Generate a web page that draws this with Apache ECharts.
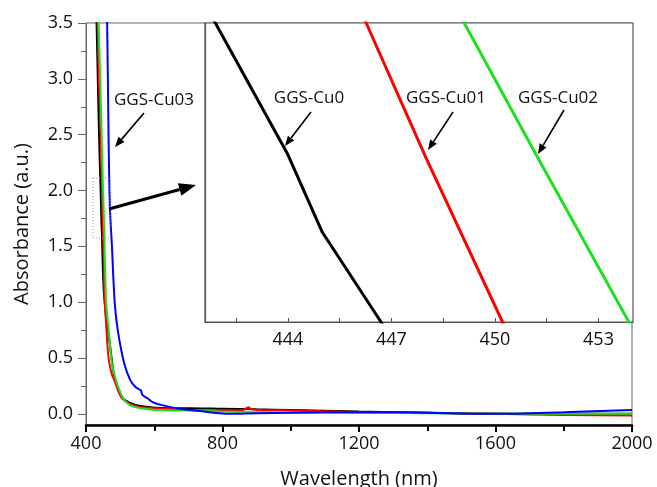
<!DOCTYPE html>
<html lang="en">
<head>
<meta charset="UTF-8">
<title>Absorbance</title>
<style>html,body{margin:0;background:#fff;}</style>
</head>
<body>
<div id="main" style="width: 657px;height:487px;"></div>
<script src="https://cdn.jsdelivr.net/npm/echarts/dist/echarts.min.js"></script>
<script>
// data (wavelength nm / absorbance a.u.)
var cu0Wl  = [425, 431, 436, 439, 441.9, 444, 445, 446.7, 448, 452, 458, 466, 475, 485, 505, 527, 560, 640, 700, 800, 900, 1000, 1200, 1400, 1600, 1800, 2000];
var cu0Abs = [4.2, 3.5, 2.8, 2.4, 2.1, 1.88, 1.75, 1.6, 1.45, 1.1, 0.9, 0.72, 0.5, 0.3, 0.15, 0.1, 0.07, 0.05, 0.05, 0.045, 0.04, 0.035, 0.02, 0.01, 0.0, 0.0, 0.0];

var cu01Wl  = [428, 434, 439, 444, 446.27, 448, 450.22, 452, 453, 455, 460, 466, 476, 483, 503, 527, 560, 640, 700, 800, 860, 870, 876, 882, 900, 1000, 1200, 1400, 1600, 1800, 2000];
var cu01Abs = [4.2, 3.5, 2.9, 2.42, 2.1, 1.875, 1.6, 1.42, 1.2, 1.0, 0.75, 0.5, 0.35, 0.3, 0.15, 0.09, 0.06, 0.045, 0.035, 0.03, 0.035, 0.05, 0.06, 0.045, 0.035, 0.03, 0.015, 0.01, 0.0, -0.01, -0.015];

var cu02Wl  = [432, 437, 442, 447, 449.11, 451.19, 453.88, 455, 457, 459, 468, 476, 488, 507, 527, 560, 640, 700, 800, 900, 1000, 1200, 1400, 1600, 1800, 2000];
var cu02Abs = [4.0, 3.5, 2.95, 2.38, 2.1, 1.88, 1.6, 1.42, 1.2, 1.0, 0.7, 0.45, 0.3, 0.15, 0.08, 0.05, 0.03, 0.03, 0.02, 0.015, 0.01, 0.01, 0.005, 0.0, 0.0, 0.0];

var cu03Wl  = [455, 462, 466, 470, 476, 484, 493, 512, 530, 545, 555, 561, 565, 580, 595, 620, 673, 720, 820, 900, 1000, 1200, 1400, 1600, 1800, 2000];
var cu03Abs = [4.5, 3.5, 2.5, 1.85, 1.5, 1.0, 0.75, 0.45, 0.3, 0.24, 0.22, 0.21, 0.17, 0.14, 0.105, 0.08, 0.045, 0.03, 0.0, 0.005, 0.01, 0.015, 0.01, 0.0, 0.015, 0.035];

var seriesNames  = ['GGS-Cu0', 'GGS-Cu01', 'GGS-Cu02', 'GGS-Cu03'];
var seriesColors = ['#000000', '#ff0000', '#1fe01f', '#0000ff'];

var yTicks      = [0, 0.5, 1.0, 1.5, 2.0, 2.5, 3.0, 3.5];
var yMinorTicks = [0.25, 0.75, 1.25, 1.75, 2.25, 2.75, 3.25];
var insetTicks  = [442.5, 444, 445.5, 447, 448.5, 450, 451.5, 453];
var insetLabels = [444, 447, 450, 453];

function zip(xs, ys) {
    var out = [];
    for (var i = 0; i < xs.length; i++) out.push([xs[i], ys[i]]);
    return out;
}
var allData = [zip(cu0Wl, cu0Abs), zip(cu01Wl, cu01Abs), zip(cu02Wl, cu02Abs), zip(cu03Wl, cu03Abs)];

var FONT = 'Open Sans';

// little arrow: shaft + filled head
function arrow(x1, y1, x2, y2, w, hl, hw) {
    var a = Math.atan2(y2 - y1, x2 - x1);
    var bx = x2 - hl * Math.cos(a), by = y2 - hl * Math.sin(a);
    var px = -Math.sin(a) * hw / 2, py = Math.cos(a) * hw / 2;
    return [
        {type: 'line', zlevel: 1, z: 50, shape: {x1: x1, y1: y1, x2: bx, y2: by}, style: {stroke: '#000', lineWidth: w}},
        {type: 'polygon', zlevel: 1, z: 50, shape: {points: [[x2, y2], [bx + px, by + py], [bx - px, by - py]]}, style: {fill: '#000'}}
    ];
}
function label(txt, cx, cy) {
    return {type: 'text', zlevel: 1, z: 50, x: cx, y: cy,
        style: {text: txt, font: '17px "' + FONT + '"', fill: '#111', align: 'center', verticalAlign: 'middle'}};
}

var graphics = [];
graphics.push(label('GGS-Cu03', 154, 100));
graphics = graphics.concat(arrow(144, 113, 115, 147, 1.6, 10, 8));
graphics = graphics.concat(arrow(109, 209, 196, 185, 3, 17, 13));
graphics.push({type: 'rect', zlevel: 1, z: 40, shape: {x: 93, y: 178, width: 17, height: 60},
    style: {fill: 'none', stroke: '#999', lineWidth: 1, lineDash: [1, 2]}});
graphics.push(label('GGS-Cu0', 309, 98));
graphics = graphics.concat(arrow(311, 112, 285, 146, 1.6, 10, 8));
graphics.push(label('GGS-Cu01', 446, 98));
graphics = graphics.concat(arrow(453, 112, 428, 150, 1.6, 10, 8));
graphics.push(label('GGS-Cu02', 558, 98));
graphics = graphics.concat(arrow(564, 110, 538, 154, 1.6, 10, 8));

var series = [];
for (var i = 0; i < 4; i++) {
    series.push({
        name: seriesNames[i], type: 'line', xAxisIndex: 0, yAxisIndex: 0,
        data: allData[i], showSymbol: false, clip: true, z: 2 + i, smooth: 0.3,
        lineStyle: {color: seriesColors[i], width: 2}
    });
}
for (var j = 0; j < 3; j++) {
    series.push({
        name: seriesNames[j] + ' inset', type: 'line', xAxisIndex: 1, yAxisIndex: 1,
        data: allData[j], showSymbol: false, clip: true, zlevel: 1,
        lineStyle: {color: seriesColors[j], width: 3}
    });
}

var myChart = echarts.init(document.getElementById('main'));
myChart.setOption({
    animation: false,
    backgroundColor: '#fff',
    textStyle: {fontFamily: FONT},
    grid: [
        {left: 86, right: 25, top: 23, bottom: 62, show: true, borderColor: '#666', borderWidth: 1, backgroundColor: '#fff',
            outerBoundsMode: 'none'},
        {left: 205, top: 23, width: 428, height: 299, show: true, borderColor: '#555', borderWidth: 1.2, backgroundColor: '#fff', zlevel: 1,
            outerBoundsMode: 'none'}
    ],
    xAxis: [
        {
            gridIndex: 0, type: 'value', min: 400, max: 2000, interval: 400,
            name: 'Wavelength (nm)', nameLocation: 'middle', nameGap: 44,
            nameTextStyle: {fontSize: 20, color: '#111', fontFamily: FONT},
            axisLine: {onZero: false, lineStyle: {color: '#000', width: 2.5}},
            axisTick: {show: true, inside: false, length: 7, lineStyle: {color: '#000', width: 2}},
            minorTick: {show: true, splitNumber: 2, length: 6, lineStyle: {color: '#000', width: 2}},
            axisLabel: {fontSize: 18, color: '#111', margin: 10, fontFamily: FONT,
                formatter: function (v) { return String(v); }},
            splitLine: {show: false}
        },
        {
            gridIndex: 1, type: 'value', min: 441.6, max: 454, zlevel: 1,
            axisLine: {onZero: false, lineStyle: {color: '#555', width: 1.2}},
            axisTick: {show: true, inside: true, length: 4, customValues: insetTicks, lineStyle: {color: '#555'}},
            axisLabel: {fontSize: 18, color: '#111', margin: 9, customValues: insetLabels, fontFamily: FONT,
                formatter: function (v) { return String(v); }},
            splitLine: {show: false}
        }
    ],
    yAxis: [
        {
            gridIndex: 0, type: 'value', min: -0.1, max: 3.5,
            name: 'Absorbance (a.u.)', nameLocation: 'middle', nameGap: 54,
            nameTextStyle: {fontSize: 20, color: '#111', fontFamily: FONT},
            axisLine: {show: true, onZero: false, lineStyle: {color: '#666', width: 1}},
            axisTick: {show: true, inside: false, length: 8, customValues: yTicks, lineStyle: {color: '#666'}},
            axisLabel: {fontSize: 18, color: '#111', margin: 13, customValues: yTicks, fontFamily: FONT,
                formatter: function (v) { return v.toFixed(1); }},
            splitLine: {show: false}
        },
        {
            gridIndex: 1, type: 'value', min: 1.6, max: 2.1, zlevel: 1,
            axisLine: {show: true, onZero: false, lineStyle: {color: '#555', width: 1.2}},
            axisTick: {show: false}, axisLabel: {show: false}, splitLine: {show: false}
        },
        {
            // minor ticks of the main y axis
            gridIndex: 0, type: 'value', min: -0.1, max: 3.5, position: 'left',
            axisLine: {show: false},
            axisTick: {show: true, inside: false, length: 5, customValues: yMinorTicks, lineStyle: {color: '#666'}},
            axisLabel: {show: false}, splitLine: {show: false}
        }
    ],
    series: series,
    graphic: graphics
});
</script>
</body>
</html>
